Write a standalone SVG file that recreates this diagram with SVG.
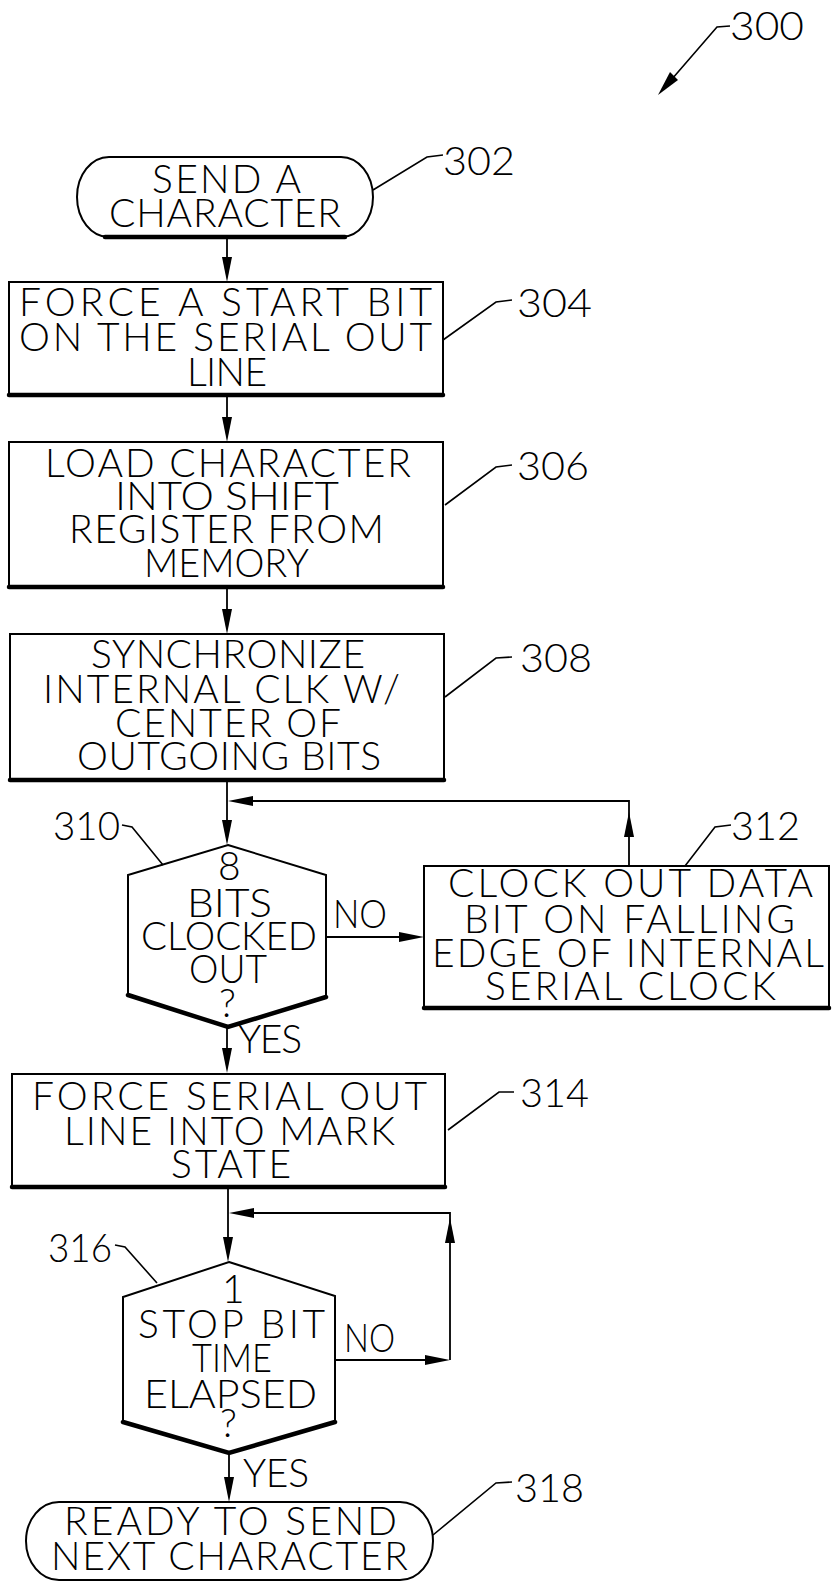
<svg xmlns="http://www.w3.org/2000/svg" xmlns:xlink="http://www.w3.org/1999/xlink" width="832" height="1582" viewBox="0 0 832 1582">
<style>
.bg{fill:#fff}
.sh{fill:none;stroke:#000;stroke-width:2}
.thick{fill:none;stroke:#000;stroke-width:4.5;stroke-linecap:round}
.ln{fill:none;stroke:#000;stroke-width:1.8}
.ld{fill:none;stroke:#000;stroke-width:1.6}
.ah{fill:#000;stroke:none}
text{font-family:Lato,"Liberation Sans",Arial,sans-serif;font-weight:300;font-size:39px;fill:#000}
</style>
<defs>
<path id="ah" d="M0,0 L-25,-5 L-25,5 Z"/>
</defs>
<rect class="bg" x="0" y="0" width="832" height="1582"/>

<g id="n300">
<path class="ld" d="M730,26 L717,27 L672,79"/>
<polygon class="ah" points="658,95 678,80 670,72"/>
<text x="730" y="40" textLength="74" lengthAdjust="spacingAndGlyphs">300</text>
</g>

<g id="n302">
<rect class="sh" x="77" y="157" width="296" height="80" rx="32" ry="40"/>
<path class="thick" d="M105,237 L345,237"/>
<text x="152" y="193" textLength="149" lengthAdjust="spacing">SEND A</text>
<text x="109" y="227" textLength="232" lengthAdjust="spacing">CHARACTER</text>
<path class="ld" d="M373,190 L427,157 L443,155"/>
<text x="443" y="175" textLength="72" lengthAdjust="spacingAndGlyphs">302</text>
</g>

<g id="n304">
<rect class="sh" x="9" y="282" width="434" height="113"/>
<path class="thick" d="M9,395 L443,395"/>
<text x="19" y="316" textLength="413" lengthAdjust="spacing">FORCE A START BIT</text>
<text x="19" y="351" textLength="413" lengthAdjust="spacing">ON THE SERIAL OUT</text>
<text x="187" y="386" textLength="80" lengthAdjust="spacing">LINE</text>
<path class="ld" d="M443,340 L496,302 L512,300"/>
<text x="517" y="317" textLength="75" lengthAdjust="spacingAndGlyphs">304</text>
</g>

<g id="n306">
<rect class="sh" x="9" y="442" width="434" height="145"/>
<path class="thick" d="M9,587 L443,587"/>
<text x="45" y="477" textLength="366" lengthAdjust="spacing">LOAD CHARACTER</text>
<text x="115" y="510" textLength="224" lengthAdjust="spacingAndGlyphs">INTO SHIFT</text>
<text x="69" y="543" textLength="315" lengthAdjust="spacing">REGISTER FROM</text>
<text x="144" y="577" textLength="165" lengthAdjust="spacingAndGlyphs">MEMORY</text>
<path class="ld" d="M445,505 L496,467 L512,465"/>
<text x="517" y="480" textLength="72" lengthAdjust="spacingAndGlyphs">306</text>
</g>

<g id="n308">
<rect class="sh" x="10" y="634" width="434" height="146"/>
<path class="thick" d="M10,780 L444,780"/>
<text x="91" y="668" textLength="274" lengthAdjust="spacing">SYNCHRONIZE</text>
<text x="43" y="703" textLength="357" lengthAdjust="spacing">INTERNAL CLK W/</text>
<text x="115" y="737" textLength="226" lengthAdjust="spacing">CENTER OF</text>
<text x="77" y="770" textLength="304" lengthAdjust="spacing">OUTGOING BITS</text>
<path class="ld" d="M445,697 L496,658 L512,657"/>
<text x="520" y="672" textLength="72" lengthAdjust="spacingAndGlyphs">308</text>
</g>

<g id="n310">
<polygon class="sh" points="228,845 326,875 326,997 228,1027 128,995 128,875"/>
<path class="thick" d="M128,995 L228,1027 L326,997"/>
<text x="218" y="880">8</text>
<text x="187" y="917" textLength="85" lengthAdjust="spacingAndGlyphs">BITS</text>
<text x="141" y="950" textLength="176" lengthAdjust="spacingAndGlyphs">CLOCKED</text>
<text x="189" y="983" textLength="78" lengthAdjust="spacingAndGlyphs">OUT</text>
<text x="219" y="1017">?</text>
<path class="ld" d="M122,825 L132,827 L163,865"/>
<text x="53" y="840" textLength="67" lengthAdjust="spacingAndGlyphs">310</text>
</g>

<g id="n312">
<rect class="sh" x="424" y="866" width="405" height="142"/>
<path class="thick" d="M424,1008 L829,1008"/>
<text x="448" y="897" textLength="365" lengthAdjust="spacing">CLOCK OUT DATA</text>
<text x="464" y="933" textLength="331" lengthAdjust="spacing">BIT ON FALLING</text>
<text x="432" y="967" textLength="392" lengthAdjust="spacing">EDGE OF INTERNAL</text>
<text x="485" y="1000" textLength="291" lengthAdjust="spacing">SERIAL CLOCK</text>
<path class="ld" d="M685,866 L715,827 L731,825"/>
<text x="731" y="840" textLength="69" lengthAdjust="spacingAndGlyphs">312</text>
</g>

<g id="n314">
<rect class="sh" x="12" y="1074" width="433" height="113"/>
<path class="thick" d="M12,1187 L445,1187"/>
<text x="32" y="1110" textLength="395" lengthAdjust="spacing">FORCE SERIAL OUT</text>
<text x="64" y="1145" textLength="331" lengthAdjust="spacing">LINE INTO MARK</text>
<text x="171" y="1178" textLength="120" lengthAdjust="spacing">STATE</text>
<path class="ld" d="M448,1130 L499,1092 L514,1092"/>
<text x="520" y="1107" textLength="69" lengthAdjust="spacingAndGlyphs">314</text>
</g>

<g id="n316">
<polygon class="sh" points="229,1262 335,1296 335,1422 229,1453 123,1422 123,1297"/>
<path class="thick" d="M123,1422 L229,1453 L335,1422"/>
<text x="222" y="1303">1</text>
<text x="138" y="1338" textLength="187" lengthAdjust="spacing">STOP BIT</text>
<text x="192" y="1372" textLength="80" lengthAdjust="spacingAndGlyphs">TIME</text>
<text x="144" y="1408" textLength="173" lengthAdjust="spacingAndGlyphs">ELAPSED</text>
<text x="220" y="1437">?</text>
<path class="ld" d="M115,1245 L125,1247 L157,1283"/>
<text x="48" y="1262" textLength="64" lengthAdjust="spacingAndGlyphs">316</text>
</g>

<g id="n318">
<rect class="sh" x="26" y="1502" width="407" height="78" rx="33" ry="39"/>
<text x="64" y="1535" textLength="333" lengthAdjust="spacing">READY TO SEND</text>
<text x="51" y="1570" textLength="357" lengthAdjust="spacing">NEXT CHARACTER</text>
<path class="ld" d="M433,1535 L496,1483 L512,1482"/>
<text x="515" y="1502" textLength="69" lengthAdjust="spacingAndGlyphs">318</text>
</g>

<g id="connectors">
<path class="ln" d="M227,238 L227,272"/>
<use xlink:href="#ah" class="ah" transform="translate(227,282) rotate(90)"/>
<path class="ln" d="M227,397 L227,430"/>
<use xlink:href="#ah" class="ah" transform="translate(227,442) rotate(90)"/>
<path class="ln" d="M227,589 L227,622"/>
<use xlink:href="#ah" class="ah" transform="translate(227,634) rotate(90)"/>
<path class="ln" d="M227,782 L227,835"/>
<use xlink:href="#ah" class="ah" transform="translate(227,845) rotate(90)"/>
<path class="ln" d="M326,937 L414,937"/>
<use xlink:href="#ah" class="ah" transform="translate(424,937) rotate(0)"/>
<text x="333" y="928" textLength="54" lengthAdjust="spacingAndGlyphs">NO</text>
<path class="ln" d="M629,866 L629,801 L236,801"/>
<use xlink:href="#ah" class="ah" transform="translate(629,812) rotate(-90)"/>
<use xlink:href="#ah" class="ah" transform="translate(228,801) rotate(180)"/>
<path class="ln" d="M227,1027 L227,1063"/>
<use xlink:href="#ah" class="ah" transform="translate(227,1073) rotate(90)"/>
<text x="238" y="1053" textLength="64" lengthAdjust="spacing">YES</text>
<path class="ln" d="M228,1189 L228,1252"/>
<use xlink:href="#ah" class="ah" transform="translate(228,1262) rotate(90)"/>
<path class="ln" d="M335,1360 L440,1360"/>
<use xlink:href="#ah" class="ah" transform="translate(450,1360) rotate(0)"/>
<text x="344" y="1352" textLength="51" lengthAdjust="spacingAndGlyphs">NO</text>
<path class="ln" d="M450,1360 L450,1213 L237,1213"/>
<use xlink:href="#ah" class="ah" transform="translate(450,1218) rotate(-90)"/>
<use xlink:href="#ah" class="ah" transform="translate(229,1213) rotate(180)"/>
<path class="ln" d="M229,1453 L229,1492"/>
<use xlink:href="#ah" class="ah" transform="translate(229,1502) rotate(90)"/>
<text x="243" y="1487" textLength="66" lengthAdjust="spacing">YES</text>
</g>
</svg>
